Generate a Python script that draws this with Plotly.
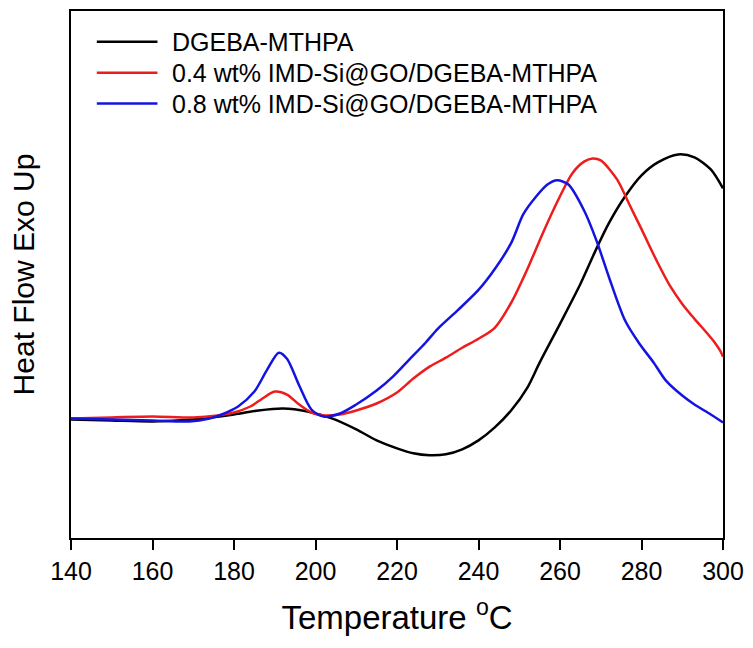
import plotly.graph_objects as go

# Temperature (°C) and heat flow (arbitrary units, exo up)
t_neat = [140, 150, 160, 170, 180, 186, 192, 198, 204, 210, 215, 220, 224, 228, 232, 236,
          240, 244, 248, 252, 255, 260, 265, 269, 272, 276, 280, 284, 289, 293, 297, 300]
hf_neat = [11.9, 11.8, 11.7, 11.9, 12.4, 12.8, 13.0, 12.7, 12.0, 10.9, 9.8, 9.0, 8.5, 8.3, 8.4, 8.9,
           9.8, 11.1, 12.8, 15.1, 17.6, 21.5, 25.5, 29.1, 31.6, 34.3, 36.4, 37.7, 38.5, 38.2, 37.0, 35.1]

t_04 = [140, 150, 160, 170, 176, 180, 184, 187, 190, 193, 196, 199, 202, 206, 210, 215, 220, 224,
        228, 232, 236, 240, 244, 248, 252, 256, 260, 263, 266, 268, 270, 274, 277, 280, 284, 287,
        290, 293, 296, 298, 299.3, 300]
hf_04 = [12.0, 12.1, 12.2, 12.1, 12.3, 12.6, 13.2, 14.0, 14.7, 14.4, 13.4, 12.6, 12.3, 12.4, 12.8, 13.5,
         14.6, 16.0, 17.2, 18.1, 19.1, 20.0, 21.1, 23.6, 27.0, 30.8, 34.3, 36.6, 37.8, 38.1, 37.9, 36.0,
         33.5, 31.0, 27.6, 25.3, 23.5, 22.0, 20.6, 19.6, 18.8, 18.2]

t_08 = [140, 150, 160, 169, 174, 177, 181, 185, 188, 191, 193, 196, 199, 202, 206, 210, 215, 219,
        223, 227, 230, 235, 240, 244, 248, 251, 254, 257, 259.3, 262, 266, 269, 272, 276, 279.5, 283,
        286, 290, 293, 297, 300]
hf_08 = [12.0, 11.9, 11.8, 11.7, 12.0, 12.4, 13.2, 14.7, 16.8, 18.6, 18.0, 15.3, 12.9, 12.2, 12.5, 13.4,
         14.8, 16.2, 17.9, 19.6, 21.0, 22.9, 24.9, 27.0, 29.6, 32.5, 34.2, 35.5, 35.9, 35.5, 32.8, 29.8,
         26.2, 21.8, 19.5, 17.6, 15.8, 14.3, 13.4, 12.4, 11.6]

names = ["DGEBA-MTHPA", "0.4 wt% IMD-Si@GO/DGEBA-MTHPA", "0.8 wt% IMD-Si@GO/DGEBA-MTHPA"]
colors = ["#000000", "#ee1c1c", "#1414e0"]
x_ticks = [140, 160, 180, 200, 220, 240, 260, 280, 300]

font = "Liberation Sans, Arial, sans-serif"

fig = go.Figure()
for t, hf, name, c in zip([t_neat, t_04, t_08], [hf_neat, hf_04, hf_08], names, colors):
    fig.add_trace(go.Scatter(x=t, y=hf, mode="lines", name=name, showlegend=False,
                             line=dict(color=c, width=2.5, shape="spline", smoothing=0.8)))

# Legend drawn as keys (lines) + text, positioned in paper coordinates
leg_rows = [0.9415, 0.883, 0.8243]
for name, c, yr in zip(names, colors, leg_rows):
    fig.add_shape(type="line", xref="paper", yref="paper", x0=0.0396, x1=0.1326, y0=yr, y1=yr,
                  line=dict(color=c, width=2.5))
    fig.add_annotation(text=name, xref="paper", yref="paper", x=0.1524, y=yr,
                       xanchor="left", yanchor="middle", showarrow=False,
                       font=dict(size=25, family=font, color="black"))

fig.update_layout(
    width=753, height=648,
    margin=dict(l=71, r=26, t=9, b=110),
    plot_bgcolor="white", paper_bgcolor="white",
    font=dict(family=font, color="black"),
    showlegend=False,
    xaxis=dict(range=[140, 300], tickmode="array", tickvals=x_ticks,
               ticks="outside", ticklen=10, tickwidth=1.5, tickcolor="black",
               showline=True, linecolor="black", linewidth=2, mirror=True,
               showgrid=False, zeroline=False,
               tickfont=dict(size=25, family=font),
               title=dict(text="Temperature <sup>o</sup>C", font=dict(size=33, family=font), standoff=22)),
    yaxis=dict(range=[0, 52.9], showticklabels=False, ticks="",
               showline=True, linecolor="black", linewidth=2, mirror=True,
               showgrid=False, zeroline=False,
               title=dict(text="Heat Flow Exo Up", font=dict(size=30, family=font), standoff=26)),
)

fig.write_html("out.html", config={"displayModeBar": False},
               post_script="document.body.style.margin='0';document.body.style.padding='0';")
